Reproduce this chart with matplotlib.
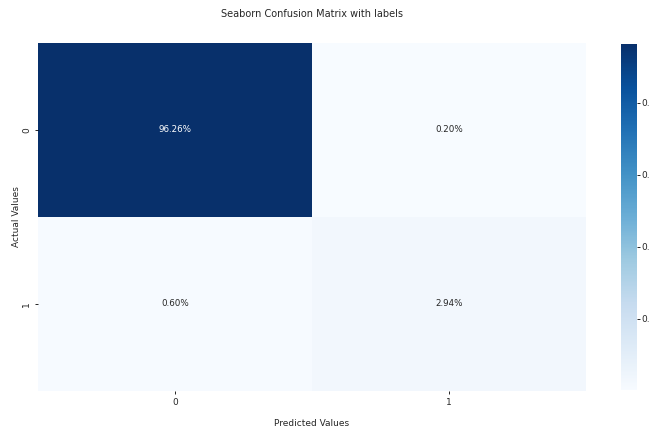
import matplotlib
matplotlib.use("Agg")
import matplotlib.pyplot as plt
import seaborn as sns
import numpy as np

# Data
row_labels = ["0", "1"]
col_labels = ["0", "1"]
row0 = [0.9626, 0.0020]
row1 = [0.0060, 0.0294]
title = "Seaborn Confusion Matrix with labels"

cf = np.array([row0, row1])
annot = np.array([[f"{v:.2%}" for v in r] for r in cf])

W, H = 649, 428
fig = plt.figure(figsize=(W / 100, H / 100), dpi=100)
ax = fig.add_axes([38 / W, 1 - 391 / H, 548 / W, 348 / H])
cax = fig.add_axes([621 / W, 1 - 390 / H, 16 / W, 346 / H])

txt = "#262626"
sns.heatmap(cf, annot=annot, fmt="", cmap="Blues", ax=ax, cbar_ax=cax,
            xticklabels=col_labels, yticklabels=row_labels,
            annot_kws={"size": 6.3})

ax.set_title(title, fontsize=7, pad=18.5, color=txt)
ax.set_xlabel("Predicted Values", fontsize=6.5, labelpad=9, color=txt)
ax.set_ylabel("Actual Values", fontsize=6.5, labelpad=1, color=txt)
ax.tick_params(axis="both", labelsize=6.5, length=2.5, width=0.6, pad=2.5,
               labelcolor=txt)
cax.set_yticks([0.2, 0.4, 0.6, 0.8])
cax.tick_params(labelsize=6.5, length=2, width=0.6, pad=0.8, labelcolor=txt)

fig.savefig("out.png", dpi=100)
